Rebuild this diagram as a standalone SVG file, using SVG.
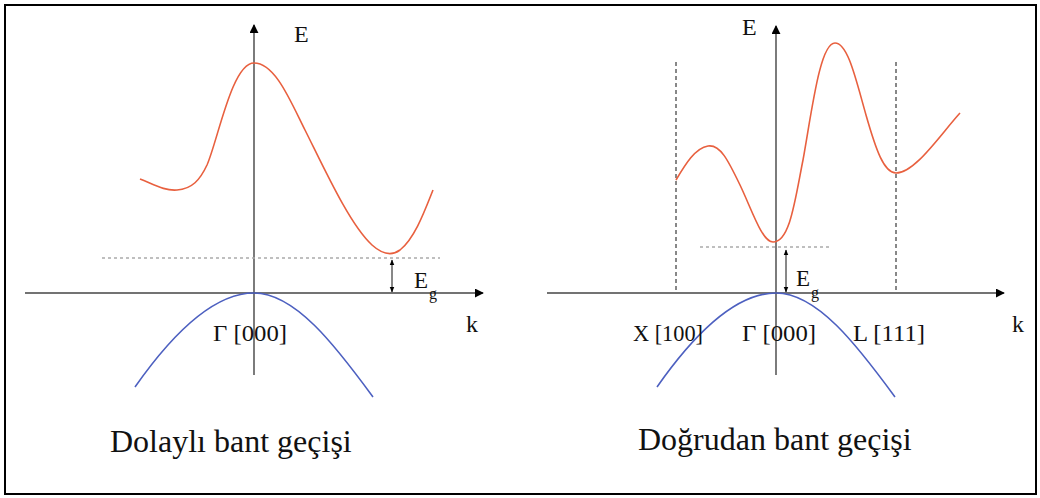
<svg xmlns="http://www.w3.org/2000/svg" width="1040" height="498" viewBox="0 0 1040 498">
<defs>
<marker id="ah" viewBox="0 0 10 10" refX="9" refY="5" markerWidth="9" markerHeight="9" markerUnits="userSpaceOnUse" orient="auto"><path d="M0,0 L10,5 L0,10 z" fill="#000"/></marker>
<marker id="sh" viewBox="0 0 10 10" refX="9" refY="5" markerWidth="6" markerHeight="6" markerUnits="userSpaceOnUse" orient="auto-start-reverse"><path d="M0,1 L10,5 L0,9 z" fill="#000"/></marker>
<style>
.ax{stroke:#444;stroke-width:1.4;fill:none}
.cb{stroke:#e8603f;stroke-width:1.6;fill:none}
.vb{stroke:#4d60c0;stroke-width:1.6;fill:none}
.gd{stroke:#aaa;stroke-width:1.6;stroke-dasharray:3,3;fill:none}
.kd{stroke:#111;stroke-width:1;stroke-dasharray:4,3;fill:none}
.eg{stroke:#111;stroke-width:1;fill:none}
.t{font-family:"Liberation Serif",serif;fill:#111}
.lb{font-size:24px}
.cap{font-size:32px}
</style>
</defs>
<rect x="5" y="5" width="1031" height="489" fill="#fff" stroke="#000" stroke-width="2"/>
<g id="connectors">
<line class="ax" x1="254" y1="375" x2="254" y2="25" marker-end="url(#ah)"/>
<line class="ax" x1="25" y1="293" x2="483" y2="293" marker-end="url(#ah)"/>
<line class="ax" x1="776" y1="375" x2="776" y2="26" marker-end="url(#ah)"/>
<line class="ax" x1="547" y1="293" x2="1004" y2="293" marker-end="url(#ah)"/>
<line class="kd" x1="676" y1="62" x2="676" y2="293"/>
<line class="kd" x1="896" y1="62" x2="896" y2="293"/>
<line class="gd" x1="102" y1="258" x2="440" y2="258"/>
<line class="gd" x1="700" y1="247" x2="832" y2="247"/>
<line class="eg" x1="392" y1="260" x2="392" y2="292" marker-start="url(#sh)" marker-end="url(#sh)"/>
<line class="eg" x1="786" y1="250" x2="786" y2="292" marker-start="url(#sh)" marker-end="url(#sh)"/>
</g>
<g id="left-diagram">
<path class="cb" d="M140,179 C155,185 165,191 177,190 C192,189 200,180 207,165 C218,140 232,63 254,63 C275,63 290,100 305,130 C325,170 350,225 372,245 C382,254 392,256 400,250 C415,238 425,210 433,190"/>
<path class="vb" d="M135,387 C175,330 215,293 254,293 C295,293 335,345 373,397"/>
<text class="t lb" x="294" y="42">E</text>
<text class="t" x="414" y="288" font-size="23">E</text>
<text class="t" x="429" y="299" font-size="16">g</text>
<text class="t lb" x="466" y="332">k</text>
<text class="t lb" x="213" y="341" textLength="74" lengthAdjust="spacingAndGlyphs">Γ [000]</text>
<text class="t cap" x="110" y="452">Dolaylı bant geçişi</text>
</g>
<g id="right-diagram">
<path class="cb" d="M676,180 C685,165 695,148 708,146 C720,144 728,160 740,185 C752,210 762,242 773,242 C790,242 795,200 803,160 C812,110 820,43 835,43 C848,43 856,80 866,115 C876,150 884,173 896,173 C915,173 940,135 960,113"/>
<path class="vb" d="M657,387 C697,330 737,293 776,293 C817,293 857,345 895,397"/>
<text class="t lb" x="742" y="35">E</text>
<text class="t" x="796" y="286" font-size="23">E</text>
<text class="t" x="811" y="298" font-size="16">g</text>
<text class="t lb" x="1012" y="332">k</text>
<text class="t lb" x="633" y="341" textLength="70" lengthAdjust="spacingAndGlyphs">X [100]</text>
<text class="t lb" x="742" y="341" textLength="74" lengthAdjust="spacingAndGlyphs">Γ [000]</text>
<text class="t lb" x="853" y="341" textLength="72" lengthAdjust="spacingAndGlyphs">L  [111]</text>
<text class="t cap" x="638" y="450">Doğrudan bant geçişi</text>
</g>
</svg>
